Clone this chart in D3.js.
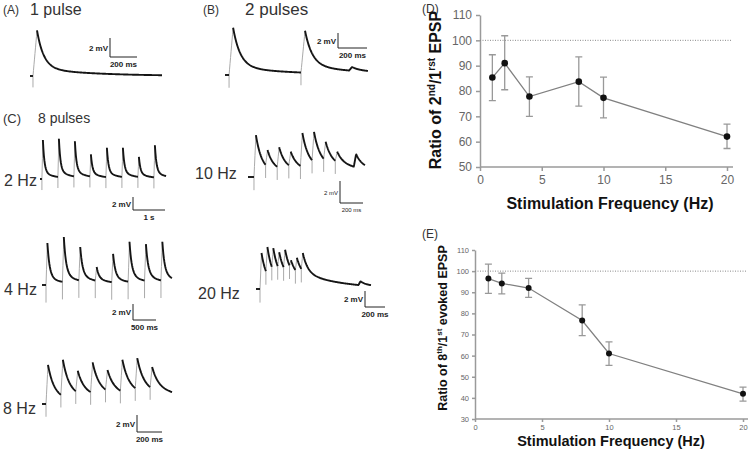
<!DOCTYPE html>
<html><head><meta charset="utf-8">
<script src="https://cdn.jsdelivr.net/npm/d3@7"></script>
<style>body{margin:0;background:#fff}svg{display:block;font-family:"Liberation Sans",Arial,sans-serif}</style>
</head><body><svg id="c" width="750" height="449"></svg>
<script>
// ---------------- DATA ----------------
const freqs = [1, 2, 4, 8, 10, 20];
const ratio2nd   = [85.3, 91.0, 77.8, 83.7, 77.3, 62.0];
const ratio2ndLo = [76.2, 80.5, 70.0, 74.0, 69.4, 57.3];
const ratio2ndHi = [94.3, 101.8, 85.6, 93.5, 85.5, 66.9];
const ratio8th   = [96.5, 94.2, 92.0, 76.6, 61.0, 41.9];
const ratio8thLo = [89.5, 89.2, 87.6, 69.5, 55.4, 38.5];
const ratio8thHi = [103.3, 99.1, 96.6, 84.0, 66.5, 45.1];
const xTicks = [0, 5, 10, 15, 20];
const yTicksD = [50, 60, 70, 80, 90, 100, 110];
const yTicksE = [30, 40, 50, 60, 70, 80, 90, 100, 110];
const refLine = 100;

// recordings: stimulus times (ms) and peak depolarisation (mV)
const stim1p = [22];                 const peaks1p = [4.8];
const stim2p = [28, 524];            const peaks2p = [6.3, 5.9];
const stim2Hz = [60, 560, 1060, 1560, 2060, 2560, 3060, 3560];
const peaks2Hz = [6.0, 6.2, 5.8, 3.8, 4.8, 4.8, 3.4, 5.2];
const stim4Hz = [87, 444, 801, 1158, 1515, 1872, 2229, 2586];
const peaks4Hz = [5.25, 6.0, 4.75, 2.25, 3.9, 5.4, 5.1, 5.4];
const stim8Hz = [32, 151, 270, 389, 508, 627, 746, 865];
const peaks8Hz = [4.6, 5.2, 3.9, 4.9, 4.0, 5.2, 5.4, 4.35];
const stim10Hz = [52, 153, 254, 355, 456, 557, 658, 759];
const peaks10Hz = [3.8, 2.45, 2.7, 2.3, 4.0, 4.1, 3.2, 2.3];
const stim20Hz = [40, 99, 158, 217, 276, 335, 394, 453];
const peaks20Hz = [4.5, 5.25, 5.1, 4.6, 4.9, 3.6, 3.9, 4.5];
// spontaneous events (ms, mV)
const spont2p = [876], spont2pAmp = [0.5];
const spont10Hz = [940], spont10HzAmp = [1.2];
const spont20Hz = [1045], spont20HzAmp = [0.5];

// ---------------- DRAW ----------------
const svg = d3.select('#c');
const txtCol = '#333';

function txt(x, y, s, size, opts = {}) {
  return svg.append('text').attr('x', x).attr('y', y).text(s)
    .attr('font-size', size).attr('fill', opts.fill || txtCol)
    .attr('font-weight', opts.bold ? 'bold' : 'normal')
    .attr('text-anchor', opts.anchor || 'start');
}

// EPSP kernel
const tauF = 50, tauS = 400, fracS = 0.17;
function kern(s, rise) {
  if (s < 0) return 0;
  if (s < rise) return s / rise;
  const d = s - rise;
  return (1 - fracS) * Math.exp(-d / tauF) + fracS * Math.exp(-d / tauS);
}

function drawTrace(cfg) {
  const T = cfg.T;
  const x = d3.scaleLinear().domain([0, T]).range([cfg.x0, cfg.x0 + T * cfg.ppm]);
  const y = d3.scaleLinear().domain([0, 2]).range([cfg.base, cfg.base - cfg.p2mV]);
  const ev = [];
  cfg.stim.forEach((t, i) => ev.push({t, peak: cfg.peaks[i], art: true, rise: cfg.rise}));
  (cfg.spont || []).forEach((t, i) => ev.push({t: t - 20, amp: cfg.spontAmp[i], art: false, rise: 20}));
  ev.sort((a, b) => a.t - b.t);
  const v = t => ev.reduce((s, e) => s + (e.A || 0) * kern(t - e.t, e.rise), 0);
  ev.forEach(e => {
    const res = v(e.t + e.rise);
    e.A = e.art ? e.peak - res : e.amp;
  });
  const line = d3.line().x(d => x(d[0])).y(d => y(d[1]));
  const dt = 0.5 / cfg.ppm;
  function sample(a, b) {
    const pts = [];
    for (let t = a; t < b; t += dt) pts.push([t, v(t)]);
    pts.push([b, v(b)]);
    return pts;
  }
  const segs = [];
  let start = 0;
  ev.filter(e => e.art).forEach(e => {
    segs.push([start, e.t]);
    start = e.t + e.rise;
    const pre = v(e.t);
    const pts = [[e.t, pre - cfg.art], [e.t, pre]].concat(sample(e.t, e.t + e.rise));
    svg.append('path').attr('d', line(pts)).attr('fill', 'none')
      .attr('stroke', '#aaa').attr('stroke-width', 1);
  });
  segs.push([start, T]);
  segs.forEach(s => {
    svg.append('path').attr('d', line(sample(s[0], s[1]))).attr('fill', 'none')
      .attr('stroke', '#151515').attr('stroke-width', 1.9).attr('stroke-linejoin', 'round');
  });
  const b = cfg.bar;
  const hLen = x(b.ms) - x(0);
  svg.append('path').attr('d', `M${b.x},${b.yb - cfg.p2mV}V${b.yb}H${b.x + hLen}`)
    .attr('fill', 'none').attr('stroke', '#222').attr('stroke-width', 1);
  const small = b.small;
  txt(b.x - 2, b.yb - cfg.p2mV / 2 + 3, '2 mV', small ? 6 : 8, {bold: !small, anchor: 'end', fill: '#222'});
  txt(b.x + hLen / 2, b.yb + (small ? 9 : 10), b.label, small ? 6 : 8, {bold: !small, anchor: 'middle', fill: '#222'});
}

drawTrace({x0: 30, ppm: 0.135, base: 76, p2mV: 19, rise: 30, art: 1.2, T: 978,
  stim: stim1p, peaks: peaks1p, bar: {x: 110, yb: 57, ms: 200, label: '200 ms'}});
drawTrace({x0: 225, ppm: 0.145, base: 75, p2mV: 15, rise: 28, art: 1.7, T: 986,
  stim: stim2p, peaks: peaks2p, spont: spont2p, spontAmp: spont2pAmp,
  bar: {x: 338, yb: 48, ms: 200, label: '200 ms'}});
drawTrace({x0: 40, ppm: 0.032, base: 179, p2mV: 13, rise: 30, art: 1.7, T: 3940,
  stim: stim2Hz, peaks: peaks2Hz, bar: {x: 133, yb: 210, ms: 1000, label: '1 s'}});
drawTrace({x0: 42, ppm: 0.046, base: 285, p2mV: 16, rise: 30, art: 2.2, T: 2826,
  stim: stim4Hz, peaks: peaks4Hz, bar: {x: 133, yb: 320, ms: 500, label: '500 ms'}});
drawTrace({x0: 42, ppm: 0.125, base: 404, p2mV: 17, rise: 16, art: 1.5, T: 1040,
  stim: stim8Hz, peaks: peaks8Hz, bar: {x: 137, yb: 432, ms: 200, label: '200 ms'}});
drawTrace({x0: 248, ppm: 0.115, base: 177, p2mV: 22, rise: 17, art: 1.2, T: 1017,
  stim: stim10Hz, peaks: peaks10Hz, spont: spont10Hz, spontAmp: spont10HzAmp,
  bar: {x: 340, yb: 203, ms: 200, label: '200 ms', small: true}});
drawTrace({x0: 256, ppm: 0.1, base: 289, p2mV: 16, rise: 15, art: 1.7, T: 1150,
  stim: stim20Hz, peaks: peaks20Hz, spont: spont20Hz, spontAmp: spont20HzAmp,
  bar: {x: 365, yb: 307, ms: 200, label: '200 ms'}});

// panel labels
txt(3, 14, '(A)', 12); txt(30, 15, '1 pulse', 16);
txt(203, 14, '(B)', 12); txt(245, 15, '2 pulses', 17);
txt(3, 123, '(C)', 13); txt(38, 123, '8 pulses', 14);
txt(4, 186, '2 Hz', 16); txt(4, 295, '4 Hz', 16); txt(3, 414, '8 Hz', 16);
txt(195, 179, '10 Hz', 16); txt(198, 299, '20 Hz', 16);
txt(422, 13, '(D)', 12); txt(422, 238, '(E)', 12);

// ratio plots
function ratioPlot(c) {
  const x = d3.scaleLinear().domain([0, 20]).range([c.x0, c.x1]);
  const y = d3.scaleLinear().domain(c.yDom).range([c.yb, c.yt]);
  const g = svg.append('g');
  const xa = g.append('g').attr('transform', `translate(0,${c.yb})`)
    .call(d3.axisBottom(x).tickValues(xTicks).tickSize(c.tick).tickSizeOuter(0).tickPadding(c.pad));
  xa.select('.domain').attr('d', `M${c.x0},0H${c.xEnd}`);
  const ya = g.append('g').attr('transform', `translate(${c.x0},0)`)
    .call(d3.axisLeft(y).tickValues(c.yTicks).tickSize(c.tick).tickSizeOuter(0).tickPadding(c.pad));
  [xa, ya].forEach(a => {
    a.selectAll('.domain,line').attr('stroke', '#9a9a9a').attr('stroke-width', 1.5);
    a.selectAll('text').attr('font-size', c.fs).attr('fill', '#666')
      .attr('font-family', '"Liberation Sans",Arial,sans-serif');
  });
  g.append('line').attr('x1', c.x0).attr('x2', c.refEnd).attr('y1', y(refLine)).attr('y2', y(refLine))
    .attr('stroke', '#888').attr('stroke-width', 1).attr('stroke-dasharray', '1,1.5');
  const idx = d3.range(freqs.length);
  g.selectAll('.eb').data(idx).join('path')
    .attr('d', i => `M${x(freqs[i]) - c.cap},${y(c.hi[i])}h${2 * c.cap}M${x(freqs[i])},${y(c.hi[i])}V${y(c.lo[i])}M${x(freqs[i]) - c.cap},${y(c.lo[i])}h${2 * c.cap}`)
    .attr('stroke', '#999').attr('stroke-width', 1.3).attr('fill', 'none');
  g.append('path').datum(idx).attr('d', d3.line().x(i => x(freqs[i])).y(i => y(c.v[i])))
    .attr('fill', 'none').attr('stroke', '#808080').attr('stroke-width', 1.3);
  g.selectAll('.pt').data(idx).join('circle')
    .attr('cx', i => x(freqs[i])).attr('cy', i => y(c.v[i])).attr('r', c.r).attr('fill', '#111');
  txt(c.xLabX, c.xLabY, 'Stimulation Frequency (Hz)', c.lfs, {bold: true, anchor: 'middle', fill: '#111'});
  const t = svg.append('text').attr('transform', `translate(${c.yLabX},${c.yLabY}) rotate(-90)`)
    .attr('text-anchor', 'middle').attr('font-size', c.ysize).attr('font-weight', 'bold').attr('fill', '#111');
  const s = c.ysize, sup = Math.round(s * 0.62);
  c.yParts.forEach(p => {
    const ts = t.append('tspan').text(p[0]);
    if (p[1]) ts.attr('font-size', sup).attr('dy', -s * 0.4);
    else if (p[2]) ts.attr('dy', s * 0.4);
  });
}

ratioPlot({x0: 480, x1: 727, xEnd: 733, refEnd: 732, yb: 167, yt: 15, yDom: [50, 110], yTicks: yTicksD,
  tick: 4, pad: 4, fs: 12, cap: 3.5, r: 3.3, v: ratio2nd, lo: ratio2ndLo, hi: ratio2ndHi,
  xLabX: 610, xLabY: 209, lfs: 16, ysize: 16, yLabX: 441, yLabY: 90,
  yParts: [['Ratio of 2'], ['nd', 1], ['/1', 0, 1], ['rst', 1], [' EPSP', 0, 1]]});
ratioPlot({x0: 475, x1: 743, xEnd: 748, refEnd: 746, yb: 419, yt: 250, yDom: [30, 110], yTicks: yTicksE,
  tick: 3, pad: 3, fs: 7.5, cap: 3.5, r: 3, v: ratio8th, lo: ratio8thLo, hi: ratio8thHi,
  xLabX: 611, xLabY: 446, lfs: 14.5, ysize: 12.5, yLabX: 447, yLabY: 328,
  yParts: [['Ratio of 8'], ['th', 1], ['/1', 0, 1], ['st', 1], [' evoked EPSP', 0, 1]]});
</script></body></html>
